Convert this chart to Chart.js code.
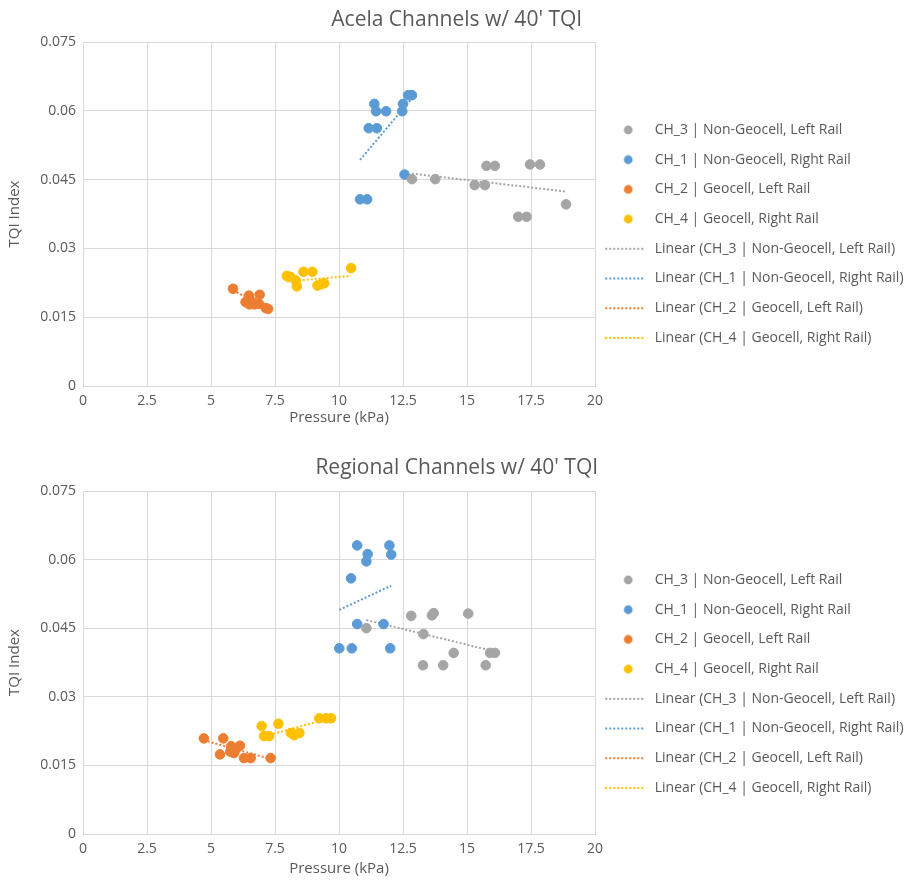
<!DOCTYPE html>
<html>
<head>
<meta charset="utf-8">
<script src="https://cdn.jsdelivr.net/npm/chart.js@4.4.0/dist/chart.umd.min.js"></script>
<style>
body { margin: 0; background: #fff; }
.box { position: relative; width: 914px; }
</style>
</head>
<body>
<div class="box" style="height:441px"><canvas id="acela"></canvas></div>
<div class="box" style="height:442px"><canvas id="regional"></canvas></div>
<script>
'use strict';

let seriesNames = ['CH_3 | Non-Geocell, Left Rail', 'CH_1 | Non-Geocell, Right Rail', 'CH_2 | Geocell, Left Rail', 'CH_4 | Geocell, Right Rail'];
let seriesColors = ['#a5a5a5', '#5b9bd5', '#ed7d31', '#ffc000'];

let xTicks = [0, 2.5, 5, 7.5, 10, 12.5, 15, 17.5, 20];
let yTicks = [0, 0.015, 0.03, 0.045, 0.06, 0.075];

// Acela channels
let acelaCh3X = [12.85, 13.76, 15.3, 15.7, 15.76, 16.09, 17.46, 17.85, 17.0, 17.33, 18.87];
let acelaCh3Y = [0.0451, 0.0451, 0.0438, 0.0438, 0.0480, 0.0480, 0.0483, 0.0483, 0.0369, 0.0369, 0.0396];
let acelaCh1X = [11.38, 12.5, 12.7, 12.85, 11.45, 11.84, 12.47, 11.16, 11.48, 12.56, 10.82, 11.1];
let acelaCh1Y = [0.0615, 0.0615, 0.0634, 0.0634, 0.0599, 0.0599, 0.0599, 0.0562, 0.0562, 0.0461, 0.0407, 0.0407];
let acelaCh2X = [5.86, 6.35, 6.48, 6.61, 6.87, 6.9, 7.14, 7.23, 6.5, 6.7];
let acelaCh2Y = [0.0212, 0.0183, 0.0197, 0.0183, 0.0179, 0.0199, 0.0170, 0.0168, 0.0178, 0.0178];
let acelaCh4X = [7.96, 8.1, 8.31, 8.61, 8.96, 8.35, 9.16, 9.3, 9.42, 10.47];
let acelaCh4Y = [0.0240, 0.0238, 0.0230, 0.0249, 0.0249, 0.0217, 0.0219, 0.0222, 0.0224, 0.0257];
// trend line ends (start, end)
let acelaTrendX = [[12.85, 18.87], [10.82, 12.85], [5.86, 7.23], [7.96, 10.47]];
let acelaTrendY = [[0.0463, 0.0424], [0.0493, 0.0627], [0.0208, 0.0170], [0.0228, 0.0240]];

// Regional channels
let regCh3X = [11.07, 12.82, 13.63, 13.7, 15.05, 13.3, 14.48, 13.28, 14.07, 15.73, 15.9, 16.09];
let regCh3Y = [0.0450, 0.0477, 0.0478, 0.0483, 0.0482, 0.0437, 0.0396, 0.0369, 0.0369, 0.0369, 0.0396, 0.0396];
let regCh1X = [10.71, 11.97, 11.12, 12.04, 11.07, 10.47, 10.71, 11.74, 10.01, 10.5, 12.0];
let regCh1Y = [0.0631, 0.0631, 0.0612, 0.0611, 0.0596, 0.0559, 0.0459, 0.0459, 0.0406, 0.0406, 0.0406];
let regCh2X = [4.72, 5.48, 5.35, 5.79, 6.13, 5.9, 5.96, 6.29, 6.55, 7.33, 5.75];
let regCh2Y = [0.0209, 0.0209, 0.0174, 0.0192, 0.0193, 0.0177, 0.0185, 0.0166, 0.0166, 0.0166, 0.0180];
let regCh4X = [6.98, 7.63, 7.07, 7.27, 8.12, 8.25, 8.45, 9.23, 9.49, 9.69];
let regCh4Y = [0.0236, 0.0241, 0.0214, 0.0214, 0.0221, 0.0216, 0.0221, 0.0253, 0.0253, 0.0253];
let regTrendX = [[11.07, 16.09], [10.01, 12.04], [4.72, 7.33], [6.98, 9.69]];
let regTrendY = [[0.0468, 0.0399], [0.0490, 0.0543], [0.0205, 0.0164], [0.0212, 0.0254]];

const textColor = '#595959';
const gridColor = '#d9d9d9';
const fontFamily = "'Open Sans', sans-serif";
Chart.defaults.font.family = fontFamily;

const legendFont = 14;
const legendGap = 15.7;
const legendBox = 37;
const plotRight = 595;

function toPoints(xs, ys) {
    let pts = [];
    for (let i = 0; i < xs.length; i++) {
        pts.push({ x: xs[i], y: ys[i] });
    }
    return pts;
}

function legendIcon(color, isLine) {
    let c = document.createElement('canvas');
    c.width = 50;
    c.height = 12;
    let g = c.getContext('2d');
    if (isLine) {
        g.strokeStyle = color;
        g.lineWidth = 2;
        g.setLineDash([2, 2]);
        g.beginPath();
        g.moveTo(1, 6);
        g.lineTo(39, 6);
        g.stroke();
    } else {
        g.fillStyle = color;
        g.beginPath();
        g.arc(24, 6, 4.4, 0, Math.PI * 2);
        g.fill();
    }
    return c;
}

// extra right padding so the legend starts where the plot should end
function rightPad(labels) {
    let g = document.createElement('canvas').getContext('2d');
    g.font = legendFont + 'px ' + fontFamily;
    let w = 0;
    labels.forEach(function (t) { w = Math.max(w, g.measureText(t).width); });
    let legendW = legendGap + legendBox + legendFont / 2 + w + 10;
    return Math.max(0, 914 - plotRight - legendW);
}

function makeChart(id, title, xs, ys, trendXs, trendYs, lay) {
    let datasets = [];
    let icons = [];
    for (let i = 0; i < 4; i++) {
        datasets.push({
            label: seriesNames[i],
            data: toPoints(xs[i], ys[i]),
            backgroundColor: seriesColors[i],
            borderColor: seriesColors[i],
            pointRadius: 4.8,
            pointBorderWidth: 1
        });
        icons.push(legendIcon(seriesColors[i], false));
    }
    for (let i = 0; i < 4; i++) {
        datasets.push({
            label: 'Linear (' + seriesNames[i] + ')',
            data: toPoints(trendXs[i], trendYs[i]),
            showLine: true,
            borderColor: seriesColors[i],
            backgroundColor: seriesColors[i],
            borderWidth: 2,
            borderDash: [2, 2],
            pointRadius: 0,
            fill: false
        });
        icons.push(legendIcon(seriesColors[i], true));
    }

    let labels = datasets.map(d => d.label);
    let ctx = document.getElementById(id).getContext('2d');
    return new Chart(ctx, {
        type: 'scatter',
        data: { datasets: datasets },
        options: {
            responsive: true,
            maintainAspectRatio: false,
            animation: false,
            layout: { padding: { right: rightPad(labels) } },
            plugins: {
                tooltip: { enabled: false },
                title: {
                    display: true,
                    text: title,
                    color: textColor,
                    font: { size: 21, weight: 'normal' },
                    padding: { top: lay.titleTop, bottom: lay.titleBottom }
                },
                legend: {
                    position: 'right',
                    align: 'center',
                    maxWidth: 914 - plotRight,
                    title: { display: true, text: ' ', font: { size: 1 }, padding: { top: lay.legendShift, bottom: 0 } },
                    labels: {
                        usePointStyle: true,
                        pointStyleWidth: legendBox,
                        padding: legendGap,
                        color: textColor,
                        font: { size: legendFont },
                        generateLabels: function (chart) {
                            return chart.data.datasets.map(function (ds, i) {
                                return {
                                    text: ds.label,
                                    fillStyle: ds.backgroundColor,
                                    strokeStyle: ds.borderColor,
                                    lineWidth: 0,
                                    pointStyle: icons[i],
                                    fontColor: textColor,
                                    hidden: false,
                                    datasetIndex: i
                                };
                            });
                        }
                    }
                }
            },
            scales: {
                x: {
                    type: 'linear',
                    min: 0,
                    max: 20,
                    afterBuildTicks: function (s) { s.ticks = xTicks.map(v => ({ value: v })); },
                    afterFit: function (s) { s.height = lay.xHeight; },
                    ticks: { color: textColor, font: { size: 14 }, padding: 7, maxRotation: 0, autoSkip: false, callback: v => String(v) },
                    grid: { color: gridColor, drawTicks: false },
                    border: { color: gridColor },
                    title: { display: true, text: 'Pressure (kPa)', color: textColor, font: { size: 15 }, padding: { top: 0, bottom: lay.xTitleBottom } }
                },
                y: {
                    type: 'linear',
                    min: 0,
                    max: 0.075,
                    afterBuildTicks: function (s) { s.ticks = yTicks.map(v => ({ value: v })); },
                    afterFit: function (s) { s.width = 83; },
                    ticks: { color: textColor, font: { size: 14 }, padding: 7, autoSkip: false, callback: v => String(v) },
                    grid: { color: gridColor, drawTicks: false },
                    border: { color: gridColor },
                    title: { display: true, text: 'TQI Index', color: textColor, font: { size: 15 }, padding: { top: 6, bottom: 0 } }
                }
            }
        }
    });
}

makeChart('acela', "Acela Channels w/ 40' TQI",
    [acelaCh3X, acelaCh1X, acelaCh2X, acelaCh4X],
    [acelaCh3Y, acelaCh1Y, acelaCh2Y, acelaCh4Y],
    acelaTrendX, acelaTrendY,
    { titleTop: 7.4, titleBottom: 9.4, xHeight: 55, xTitleBottom: 14, legendShift: 25.7 });

makeChart('regional', "Regional Channels w/ 40' TQI",
    [regCh3X, regCh1X, regCh2X, regCh4X],
    [regCh3Y, regCh1Y, regCh2Y, regCh4Y],
    regTrendX, regTrendY,
    { titleTop: 14.4, titleBottom: 10.4, xHeight: 49, xTitleBottom: 5, legendShift: 42.7 });
</script>
</body>
</html>
